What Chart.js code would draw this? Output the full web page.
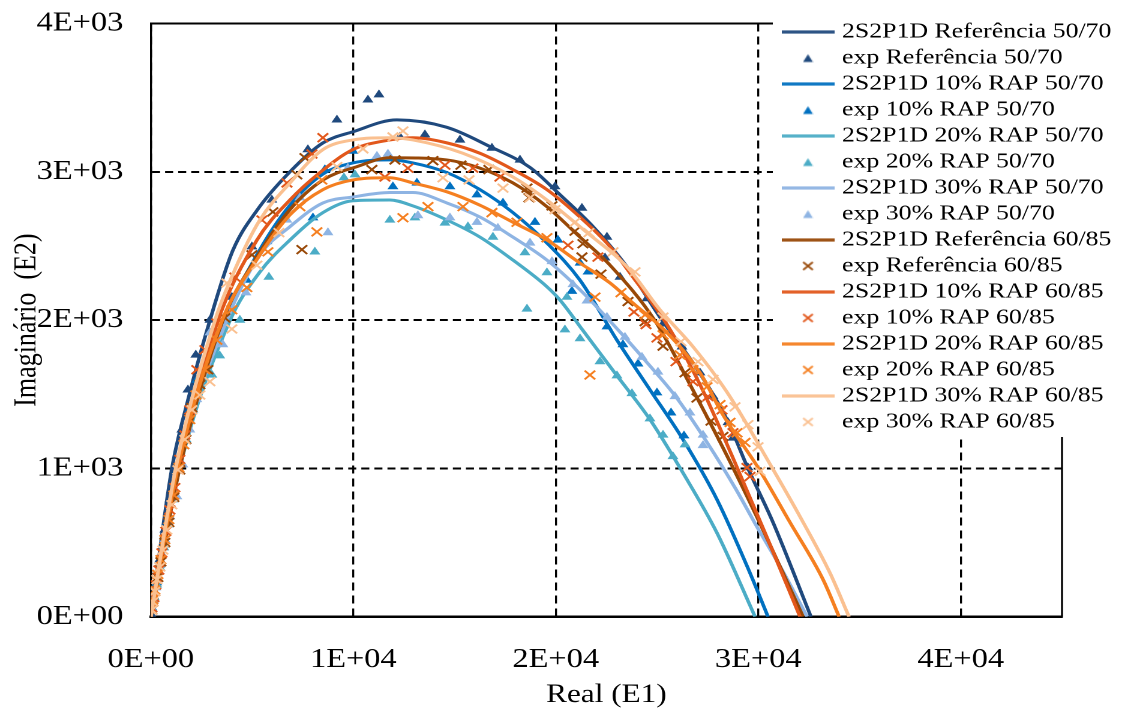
<!DOCTYPE html>
<html>
<head>
<meta charset="utf-8">
<script src="https://cdn.jsdelivr.net/npm/chart.js@4.4.0/dist/chart.umd.min.js"></script>
<style>
  html, body { margin: 0; padding: 0; background: #fff; overflow: hidden; }
  /* the source picture is stretched 1.2x horizontally, so draw narrow and stretch */
  #wrap { width: 935px; height: 713px; transform: scaleX(1.2); transform-origin: 0 0; }
</style>
</head>
<body>
<div id="wrap"><canvas id="chart"></canvas></div>
<script>
// 2S2P1D model curves (Real E1, Imaginario E2)
const line_ref5070 = [[0,0],[1040,1000],[1830,1460],[2920,2000],[4050,2470],[5240,2740],[6870,3000],[8500,3195],[9980,3270],[12150,3350],[14620,3300],[16750,3170],[18720,3030],[20210,2845],[21840,2630],[23510,2360],[25140,2020],[26780,1710],[28450,1330],[29490,1000],[30730,635],[32600,0]];
const line_10_5070 = [[0,0],[1330,1005],[3660,2000],[5385,2475],[6870,2775],[8500,2985],[9980,3060],[11810,3080],[12940,3060],[14620,2995],[16250,2880],[17880,2725],[19560,2520],[21190,2270],[23020,1865],[24650,1530],[26280,1195],[27960,790],[29590,295],[30480,0]];
const line_20_5070 = [[0,0],[1430,1005],[3900,1995],[5385,2325],[6870,2540],[8500,2725],[9980,2805],[11810,2810],[12940,2770],[14620,2675],[16250,2560],[17880,2405],[19560,2225],[20210,2135],[21340,1930],[23020,1625],[24650,1330],[26280,970],[27960,565],[29840,0]];
const line_30_5070 = [[0,0],[1330,1005],[3750,2000],[5385,2440],[6870,2630],[8500,2790],[9980,2830],[11810,2860],[12940,2860],[14620,2790],[16250,2695],[17880,2560],[19560,2405],[21190,2205],[23170,1920],[24400,1730],[25890,1490],[27470,1175],[28850,870],[29940,605],[31220,305],[32410,0]];
const line_ref6085 = [[0,0],[1430,1005],[3560,2000],[5240,2425],[6870,2745],[8500,2945],[10180,3035],[11810,3095],[14620,3080],[16250,3025],[17880,2925],[19560,2765],[21190,2560],[22680,2370],[24900,1995],[26630,1565],[28750,1005],[30580,485],[32210,0]];
const line_10_6085 = [[0,0],[1300,1005],[3310,1995],[5240,2540],[6870,2810],[8350,2995],[9980,3150],[11810,3215],[12940,3230],[14620,3195],[16250,3125],[17880,3015],[19560,2880],[21190,2695],[22680,2495],[23810,2290],[25490,1970],[27120,1565],[28750,1070],[30430,535],[32060,0]];
const line_20_6085 = [[0,0],[1330,1005],[3510,1995],[5290,2420],[6870,2710],[8500,2880],[9980,2945],[11810,2960],[12940,2925],[14620,2865],[16250,2775],[17880,2660],[19560,2540],[21190,2385],[22680,2250],[23810,2115],[25490,1915],[27120,1645],[28260,1360],[29990,1005],[31570,635],[33200,250],[33990,0]];
const line_30_6085 = [[0,0],[1235,1005],[3160,1995],[4150,2340],[5385,2675],[6870,2925],[8500,3150],[9980,3215],[11810,3230],[12940,3215],[15410,3125],[17880,2965],[19560,2810],[21540,2590],[23510,2360],[25140,2070],[26780,1820],[28450,1515],[30680,1005],[32060,675],[33540,295],[34480,0]];

// experimental points
const exp_ref5070 = [[10,15],[100,115],[245,215],[445,385],[690,585],[940,790],[1185,1005],[1530,1260],[1830,1530],[2220,1765],[2915,2000],[4000,2155],[4990,2495],[5975,2810],[7755,3150],[9190,3350],[10720,3485],[11265,3520],[12300,3235],[13535,3250],[15265,3215],[16845,3160],[18230,3080],[19960,2900],[21290,2755],[22525,2560],[22430,2420],[23170,2290],[24500,2145],[25295,1975],[26230,1820],[27120,1645],[27765,1485],[28505,1310],[28750,1205],[29490,1005]];
const exp_10_5070 = [[50,60],[150,135],[295,230],[445,350],[640,485],[840,640],[1035,790],[1335,990],[1630,1195],[1925,1395],[2270,1595],[2765,1800],[3160,1935],[4740,2270],[5730,2530],[8005,2690],[8595,3015],[9980,3140],[11955,2900],[13140,2925],[14770,2900],[16105,2845],[17390,2790],[18970,2660],[20105,2540],[21195,2385],[21590,2325],[20795,2195],[22525,1955],[23315,1835],[24060,1705],[24995,1510],[25690,1375],[26330,1220]];
const exp_20_5070 = [[50,45],[150,130],[295,215],[445,330],[640,465],[840,620],[1085,790],[1385,990],[1730,1195],[2075,1395],[2420,1565],[3015,1630],[3400,1760],[4395,2000],[5830,2290],[8100,2460],[9535,2960],[10080,2980],[11805,2675],[13040,2690],[14525,2655],[15660,2630],[16895,2560],[18475,2455],[18575,2075],[19560,2320],[20550,2155],[20450,1935],[21195,1875],[22180,1720],[23020,1625],[23760,1505],[24650,1335],[25295,1225],[25785,1080],[26380,1160]];
const exp_30_5070 = [[50,55],[150,115],[245,195],[395,305],[545,420],[690,520],[940,675],[1285,810],[1580,1025],[1925,1260],[2270,1465],[2765,1765],[2915,1915],[3555,1835],[4695,2185],[6720,2675],[7360,2825],[8745,2590],[9730,3025],[11165,3105],[11710,3120],[13190,2705],[14770,2690],[16105,2660],[17140,2620],[18725,2520],[19810,2395],[20845,2240],[21540,2130],[22525,2020],[23415,1885],[24255,1750],[25045,1650],[25885,1485],[26625,1375],[27270,1225],[27270,1155]];
const exp_ref6085 = [[50,45],[100,100],[195,170],[345,265],[495,370],[690,500],[890,635],[1135,805],[1430,990],[1730,1195],[2025,1410],[2420,1565],[2815,1665],[3655,2015],[4990,2440],[6025,2730],[7210,2980],[7460,2475],[7610,3095],[10915,3015],[12055,3080],[13930,3075],[15315,3045],[16695,3015],[18575,2890],[18675,2825],[19810,2770],[20945,2600],[21340,2515],[21290,2425],[22230,2310],[23565,2125],[24405,1990],[25295,1825],[26380,1645],[26970,1475],[27665,1320],[28255,1215]];
const exp_10_6085 = [[50,60],[150,130],[245,215],[395,315],[545,430],[740,575],[940,720],[1185,870],[1430,1060],[1680,1225],[1925,1395],[2270,1665],[2670,1800],[3260,1980],[4150,2290],[5485,2675],[6720,2925],[7955,3120],[8495,3230],[11560,2965],[12695,3025],[14525,3045],[15905,3025],[17240,2965],[20600,2505],[22080,2425],[23860,2055],[24455,1970],[24995,1880],[25935,1720],[26775,1585],[27515,1485],[28205,1395],[28750,1240],[29440,1005],[29590,945]];
const exp_20_6085 = [[50,45],[100,115],[195,180],[345,285],[495,385],[690,520],[890,655],[1135,820],[1385,1005],[1630,1160],[1925,1330],[2225,1495],[2670,1665],[3260,1865],[4000,2070],[4740,2220],[5780,2460],[7360,2765],[8200,2595],[8445,2945],[12450,2690],[13685,2765],[15415,2765],[16845,2725],[18080,2660],[19560,2555],[21685,1630],[21935,2155],[23220,2185],[24405,2035],[25295,1900],[26135,1765],[26775,1665],[27465,1550],[28110,1430],[28605,1310],[28950,1240],[29345,1175]];
const exp_30_6085 = [[50,45],[100,100],[195,170],[295,250],[445,335],[595,450],[790,585],[1035,755],[1335,990],[1680,1195],[2025,1395],[2420,1495],[2915,1585],[4000,1940],[3755,2250],[5235,2370],[6325,2590],[9190,3035],[10475,3155],[11955,3235],[12450,3275],[14425,2960],[15710,2945],[17390,2890],[18725,2825],[19960,2745],[20945,2660],[21635,2590],[22825,2460],[23910,2325],[25295,2020],[26180,1855],[27020,1720],[27765,1600],[28850,1415],[29490,1295],[29985,1145],[30085,980]];

const mixes = ['Referência 50/70', '10% RAP 50/70', '20% RAP 50/70', '30% RAP 50/70',
               'Referência 60/85', '10% RAP 60/85', '20% RAP 60/85', '30% RAP 60/85'];
const mixColors = ['#1F497D', '#0070C0', '#4BACC6', '#8EB4E3', '#984807', '#E2571B', '#F57F20', '#FAC090'];
const curves = [line_ref5070, line_10_5070, line_20_5070, line_30_5070, line_ref6085, line_10_6085, line_20_6085, line_30_6085];
const exps = [exp_ref5070, exp_10_5070, exp_20_5070, exp_30_5070, exp_ref6085, exp_10_6085, exp_20_6085, exp_30_6085];
const xTickValues = [0, 10000, 20000, 30000, 40000];
const xTickLabels = ['0E+00', '1E+04', '2E+04', '3E+04', '4E+04'];
const yTickValues = [0, 1000, 2000, 3000, 4000];
const yTickLabels = ['0E+00', '1E+03', '2E+03', '3E+03', '4E+03'];

const serif = 'Liberation Serif';

// small legend symbols
function mark(w, h, paint) {
  const c = document.createElement('canvas');
  c.width = w; c.height = h;
  paint(c.getContext('2d'));
  return c;
}
const lineMark = col => mark(44, 4, g => { g.fillStyle = col; g.fillRect(0, 0.5, 44, 3); });
const triMark = col => mark(9, 9, g => {
  g.fillStyle = col; g.beginPath();
  g.moveTo(0.4, 8.4); g.lineTo(8.6, 8.4); g.lineTo(4.5, 0.8); g.closePath(); g.fill();
});
const crossMark = col => mark(10, 10, g => {
  g.strokeStyle = col; g.lineWidth = 1.7; g.beginPath();
  g.moveTo(1, 1.2); g.lineTo(9, 8.8); g.moveTo(9, 1.2); g.lineTo(1, 8.8); g.stroke();
});

const datasets = [];
const legendMarks = [];
mixes.forEach((name, i) => {
  const col = mixColors[i];
  const tri = i < 4;
  datasets.push({
    label: '2S2P1D ' + name, data: curves[i], showLine: true,
    borderColor: col, backgroundColor: col, borderWidth: 3,
    pointRadius: 0, cubicInterpolationMode: 'monotone', order: 16 - 2 * i
  });
  datasets.push({
    label: 'exp ' + name, data: exps[i], showLine: false,
    pointStyle: tri ? 'triangle' : 'crossRot', pointRadius: tri ? 5.3 : 6.2,
    pointBackgroundColor: col, pointBorderColor: col, pointBorderWidth: tri ? 0 : 1.8,
    borderColor: col, backgroundColor: col, order: 15 - 2 * i
  });
  legendMarks.push(lineMark(col), tri ? triMark(col) : crossMark(col));
});

// legend sits over the plot on a white box, frame is solid on top and right
const overlay = {
  id: 'overlay',
  afterLayout(chart) {
    const lg = chart.legend;
    const w = lg.width, h = lg.height;
    lg.left = 651.2; lg.top = 16.7;
    lg.right = lg.left + w; lg.bottom = lg.top + h;
  },
  beforeDatasetsDraw(chart) {
    const {ctx, chartArea: a} = chart;
    ctx.save();
    ctx.strokeStyle = '#000';
    ctx.lineWidth = 2;
    ctx.beginPath(); ctx.moveTo(a.left, a.top); ctx.lineTo(a.right + 0.8, a.top); ctx.stroke();
    ctx.lineWidth = 1.67;
    ctx.beginPath(); ctx.moveTo(a.right, a.top); ctx.lineTo(a.right, a.bottom); ctx.stroke();
    ctx.fillStyle = '#fff';
    ctx.fillRect(644, 8, 935 - 644, 437 - 8);
    ctx.restore();
    chart.legend.draw();
  }
};

new Chart(document.getElementById('chart'), {
  type: 'scatter',
  data: { datasets },
  options: {
    responsive: true,
    maintainAspectRatio: false,
    animation: false,
    devicePixelRatio: 2,
    layout: { padding: { top: 23.5, right: 50, bottom: 0, left: 0 } },
    plugins: {
      tooltip: { enabled: false },
      legend: {
        position: 'chartArea',
        fullSize: false,
        align: 'start',
        labels: {
          usePointStyle: true,
          pointStyleWidth: 35.2,
          padding: 4.5,
          color: '#000',
          font: { family: serif, size: 21.5 },
          sort: (a, b) => a.datasetIndex - b.datasetIndex,
          generateLabels: chart => Chart.defaults.plugins.legend.labels.generateLabels(chart).map(item => {
            item.pointStyle = legendMarks[item.datasetIndex];
            return item;
          })
        }
      }
    },
    scales: {
      x: {
        type: 'linear', min: 0, max: 45000,
        afterBuildTicks: s => { s.ticks = xTickValues.map(v => ({ value: v })); },
        afterFit: s => { s.height = 96.3; s.paddingLeft = 0; s.paddingRight = 0; },
        ticks: {
          padding: 27, maxRotation: 0, autoSkip: false,
          color: '#000', font: { family: serif, size: 27 },
          callback: (v, i) => xTickLabels[i]
        },
        grid: { color: '#000', lineWidth: 1.67, drawTicks: false },
        border: { color: '#000', width: 2.5, dash: [8, 5] },
        title: { display: true, text: 'Real (E1)', color: '#000', font: { family: serif, size: 26 }, padding: { top: 0, bottom: 2.4 } }
      },
      y: {
        type: 'linear', min: 0, max: 4000,
        afterBuildTicks: s => { s.ticks = yTickValues.map(v => ({ value: v })); },
        afterFit: s => { s.width = 125.7; s.paddingTop = 0; s.paddingBottom = 0; },
        ticks: {
          padding: 23, color: '#000', font: { family: serif, size: 27 },
          callback: (v, i) => yTickLabels[i]
        },
        grid: { color: '#000', lineWidth: 2, drawTicks: false },
        border: { color: '#000', width: 1.67, dash: [6.7, 4.2] },
        title: { display: true, text: 'Imaginário  (E2)', color: '#000', font: { family: serif, size: 26 }, padding: { top: 7, bottom: 0 } }
      }
    }
  },
  plugins: [overlay]
});
</script>
</body>
</html>
